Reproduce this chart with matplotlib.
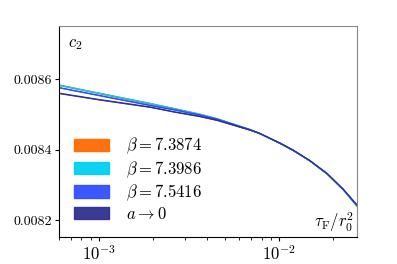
import numpy as np
import matplotlib
matplotlib.use("Agg")
import matplotlib.pyplot as plt
from matplotlib.patches import Patch
from matplotlib.ticker import FormatStrFormatter

plt.rcParams["font.family"] = "serif"
plt.rcParams["font.serif"] = ["cmr10"]
plt.rcParams["mathtext.fontset"] = "cm"
plt.rcParams["axes.formatter.use_mathtext"] = True
plt.rcParams["font.size"] = 12

# flow time tau_F / r0^2
tau = [6.0e-4, 1.0e-3, 1.92e-3, 2.64e-3, 3.60e-3, 4.51e-3, 6.90e-3, 7.83e-3,
       1.014e-2, 1.20e-2, 1.49e-2, 1.85e-2, 2.27e-2, 2.71e-2]

c2_b73874 = [0.008583, 0.008560, 0.008531, 0.008516, 0.008501, 0.008488, 0.008457, 0.008446,
             0.008418, 0.008398, 0.008368, 0.008331, 0.008287, 0.008241]
c2_b73986 = [0.008583, 0.008560, 0.008531, 0.008516, 0.008501, 0.008488, 0.008457, 0.008446,
             0.008418, 0.008398, 0.008368, 0.008331, 0.008287, 0.008240]
c2_b75416 = [0.008576, 0.008554, 0.008526, 0.008513, 0.008499, 0.008487, 0.008457, 0.008446,
             0.008418, 0.008398, 0.008368, 0.008332, 0.008288, 0.008242]
c2_cont = [0.008560, 0.008542, 0.008521, 0.008507, 0.008495, 0.008484, 0.008456, 0.008446,
           0.008419, 0.008399, 0.008369, 0.008333, 0.008289, 0.008244]

labels = [r"$\beta=7.3874$", r"$\beta=7.3986$", r"$\beta=7.5416$", r"$a\to0$"]
colors = ["#ff6a00", "#00d0f0", "#3050ff", "#303090"]
series = [c2_b73874, c2_b73986, c2_b75416, c2_cont]

fig = plt.figure(figsize=(3.97, 2.64), dpi=100)
ax = fig.add_axes([0.1486, 0.1023, 0.7504, 0.7992])

err = 1.6e-6
for vals, col in zip(series, colors):
    v = np.array(vals)
    ax.fill_between(tau, v - err, v + err, color=col, lw=0)
    ax.plot(tau, v, color=col, lw=0.9)

ax.set_xscale("log")
ax.set_xlim(6.0e-4, 2.71e-2)
ax.set_ylim(0.008153, 0.00875)
ax.set_yticks([0.0082, 0.0084, 0.0086])
ax.yaxis.set_major_formatter(FormatStrFormatter("%.4f"))

for s in ["top", "right"]:
    ax.spines[s].set_color("#888888")
ax.tick_params(which="both", top=False, right=False, pad=2)
ax.tick_params(axis="y", labelsize=10)
ax.tick_params(axis="x", labelsize=12)
ax.tick_params(which="major", length=3)
ax.tick_params(which="minor", length=2)

ax.text(0.03, 0.95, r"$c_2$", transform=ax.transAxes, ha="left", va="top")
ax.text(0.99, 0.015, r"$\tau_{\rm F}/r_0^2$", transform=ax.transAxes, ha="right", va="bottom")

handles = [Patch(facecolor=c, edgecolor=c, alpha=0.95) for c in colors]
ax.legend(handles, labels, loc="lower left", frameon=False, handlelength=2.1,
          handleheight=0.75, labelspacing=0.17, handletextpad=1.0,
          bbox_to_anchor=(0.0, 0.0))

fig.savefig("out.png", dpi=100)
